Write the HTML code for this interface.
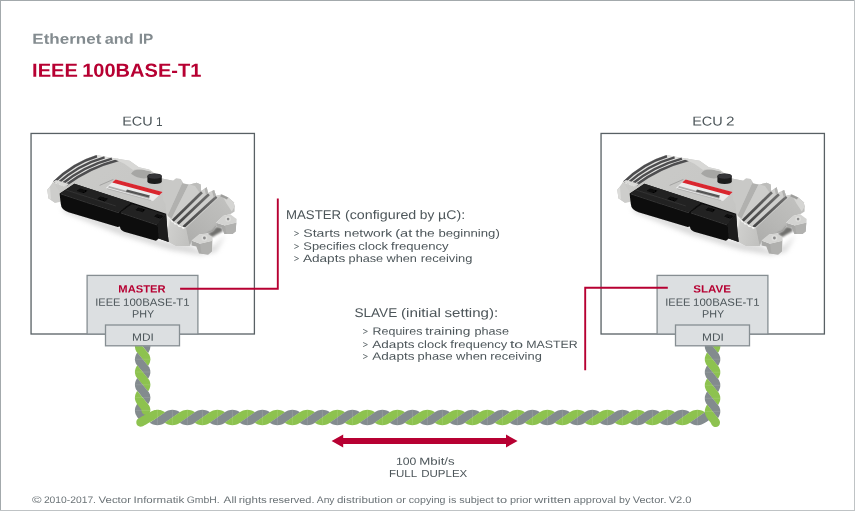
<!DOCTYPE html>
<html>
<head>
<meta charset="utf-8">
<title>IEEE 100BASE-T1</title>
<style>
html,body{margin:0;padding:0;background:#fff;}
body{width:855px;height:511px;overflow:hidden;font-family:"Liberation Sans",sans-serif;}
svg{display:block;}
text{font-family:"Liberation Sans",sans-serif;text-rendering:geometricPrecision;}
</style>
</head>
<body>
<svg width="855" height="511" viewBox="0 0 855 511">
<defs>
<filter id="b05" x="-10%" y="-10%" width="120%" height="120%"><feGaussianBlur stdDeviation="0.4"/></filter>
<filter id="b3" x="-30%" y="-80%" width="160%" height="260%"><feGaussianBlur stdDeviation="2.6"/></filter>
<filter id="b1" x="-30%" y="-60%" width="160%" height="220%"><feGaussianBlur stdDeviation="1"/></filter>
<linearGradient id="gTop" x1="0" y1="0" x2="1" y2="0.6">
<stop offset="0" stop-color="#cbcbc9"/><stop offset="0.6" stop-color="#c7c7c5"/><stop offset="1" stop-color="#c2c2c0"/>
</linearGradient>
<linearGradient id="gLong" gradientUnits="userSpaceOnUse" x1="230" y1="198" x2="192" y2="244">
<stop offset="0" stop-color="#c2c2c0"/><stop offset="0.55" stop-color="#b8b8b6"/><stop offset="1" stop-color="#aeaeac"/>
</linearGradient>
<linearGradient id="gFront" gradientUnits="userSpaceOnUse" x1="166" y1="230" x2="190" y2="236">
<stop offset="0" stop-color="#ececea"/><stop offset="0.1" stop-color="#cfcfcd"/><stop offset="1" stop-color="#c1c1bf"/>
</linearGradient>
<linearGradient id="gGap" gradientUnits="userSpaceOnUse" x1="210" y1="192" x2="178" y2="226">
<stop offset="0" stop-color="#6e6e6e"/><stop offset="1" stop-color="#434343"/>
</linearGradient>
<g id="ecu">
<!-- ground shadows -->
<g filter="url(#b3)" opacity="0.5">
<path d="M62 207 L120 226 L160 240 L190 245 L198 250 L214 246 L226 234 L216 252 L200 255 L170 250 L118 234 L64 212Z" fill="#b4b4b4"/>
</g>
<g filter="url(#b05)">
<!-- body silhouette -->
<path d="M47.4 189.8 L51.2 185 L53 181.8 Q72 162 96.5 155 L110 157.6 L129.7 160.7 L138.8 167.3 L149 169.5 L162.1 178.6 L173.2 180.8 L176 178.4 L180.7 178.9 L183.5 183.6 L190 184.5 L196.5 182.7 L200.6 184.5 L201.1 191 L206.7 187.3 L208 192.9 L214.1 190.1 L216 195.7 L221.6 194.4 L228.1 197.5 L233.7 202.2 L234.6 206.8 L231.8 211.5 L224.4 215.2 L216 221.7 L205.8 233.8 L199.3 234.2 L191.8 241.2 L190 245.9 L176.4 246.1 L169 241.9 L167.5 232 L166.2 213.8 L60 201.4 L54.9 202.8 L48.4 198.2Z" fill="url(#gTop)"/>
<!-- left face -->
<path d="M47.4 189.8 L51.2 185 L53.3 182.6 L59.8 192 L59.8 202 L54.9 202.8 L48.4 198.2Z" fill="#cdcdcb"/>
<path d="M47.4 189.8 L50 187 L51 199.5 L48.4 198.2Z" fill="#dcdcda"/>
<!-- left fins: light base + dark stripes -->
<path d="M52.6 182.6 Q72 162 96.5 155 L119.5 159.4 Q90 167.6 64 186.6Z" fill="#e2e2e0"/>
<g fill="none" stroke="#4e4e50" stroke-width="2.5">
<path d="M54 182.2 Q73 163.4 97 156.2"/>
<path d="M57.6 183.4 Q78.5 164.8 104.6 157.4"/>
<path d="M61.6 184.3 Q84 166 112 158.6"/>
<path d="M65.6 185.2 Q89.5 167.4 118.4 160"/>
</g>
<path d="M53 182 L62.5 185.4 L66.5 186 L69 184 L56 180Z" fill="#d9d9d7"/>
<!-- hump recess -->
<path d="M131 173.8 Q133.5 168.8 142 169.6 L151.5 171.5 L148 178 Q139 179.8 131 173.8Z" fill="#a6a6a4"/>
<path d="M110 157.6 L129.7 160.7 L138.8 167.3 L149 169.5 L153 172 L142 169.6 Q136 168.5 133 170 L124 163.5Z" fill="#d8d8d6"/>
<!-- cap -->
<path d="M147.4 176.2 Q147.4 173.6 154.6 173.6 Q161.8 173.6 161.8 176.4 L161.8 181.2 Q161.8 183.9 154.6 183.9 Q147.4 183.9 147.4 181.2Z" fill="#1d1d1f"/>
<ellipse cx="154.6" cy="176.2" rx="7.1" ry="2.5" fill="#343437"/>
<!-- label -->
<path d="M115.3 179.6 L162.4 192.3 L153 201 L105.8 188Z" fill="#ececec"/>
<path d="M115.6 179.4 L162.6 192.1 L159.2 195.2 L112.2 182.5Z" fill="#d9262f"/>
<path d="M109 186 L150 197.2 L149 198.8 L108 187.6Z" fill="#8a8a8a" opacity="0.65"/>
<path d="M127 189.4 L150 195.6 L148.8 197.6 L125.8 191.4Z" fill="#333" opacity="0.8"/>
<path d="M107 188.6 L151 200.4" stroke="#9a9a9a" stroke-width="0.7" opacity="0.7"/>
<path d="M99.6 185.4 L113.4 179.4" stroke="#8a8a88" stroke-width="0.6"/>
<!-- darker face left of F0 -->
<path d="M182.1 183.3 L188.4 184.7 L172 218.6 L167.6 215.6Z" fill="#b1b1af"/>
<path d="M162.1 178.6 L173.2 180.8 L176 178.4 L180.7 178.9 L182.1 183.3 L167.6 215.6 L166.2 213.8 L165.5 204 L163 200Z" fill="#c9c9c7"/>
<!-- F0 light face -->
<path d="M188.4 184.7 L190 184.5 L196.5 182.7 L200.6 184.5 L201.1 191 L172.4 220.6 L171.4 218.4Z" fill="#cdcdcb"/>
<path d="M190 184.5 L196.5 182.7 L200.6 184.5 L201.1 191 L199.5 192.5 L195 186Z" fill="#bdbdbb"/>
<!-- fin region light base -->
<path d="M201.1 191 L206.7 187.3 L208 192.9 L214.1 190.1 L216 195.7 L221.6 194.4 L226 197 L186.4 228.2 L171.5 220Z" fill="#cfcfcd"/>
<!-- dark gaps -->
<g fill="none" stroke="url(#gGap)" stroke-width="2.7">
<path d="M172.8 220.8 L201.9 192.2"/>
<path d="M177.8 223.8 L208.9 194.2"/>
<path d="M183.5 227 L216.5 196.8"/>
</g>
<!-- fin end faces -->
<path d="M206.7 187.3 L208 192.9 L206 195 L204.6 188.8Z" fill="#b1b1af"/>
<path d="M214.1 190.1 L216 195.7 L214 197.8 L212 191.2Z" fill="#b1b1af"/>
<!-- long right face -->
<path d="M221.6 194.4 L228.1 197.5 L233.7 202.2 L234.6 206.8 L234.6 211.5 L230.2 214.2 L223.2 215.8 L216.2 222.8 L216.2 226.5 L212.5 230.9 L206.5 233.5 L199 234.6 L191.5 240.5 L189.6 245.2 L185.9 227.9 L217.6 198.6Z" fill="url(#gLong)"/>
<path d="M221.6 194.4 L228.1 197.5 L233.7 202.2 L234.6 206.8 L231.8 211.5 L226.5 203.5Z" fill="#d5d5d3"/>
<path d="M221.6 194.4 L228.1 197.5 L227 199.4 L220.2 196.3Z" fill="#9d9d9b"/>
<!-- front right face -->
<path d="M166.2 213.8 L168.6 217 L171.1 219.8 L173.7 221.9 L176.9 224 L181.7 226.7 L185.9 227.7 L188.5 242.5 L190 245.9 L176.4 246.1 L169 241.9 L167.5 232Z" fill="url(#gFront)"/>
<path d="M168.2 217.2 L170.8 220.2 L171.8 222.2 L173.6 222.4 L174.6 224.4 L177 224.6 L178.4 226.8 L181.6 227.2 L183 229 L185.9 227.7 L181.7 226.7 L176.9 224 L173.7 221.9 L171.1 219.8 L168.6 217Z" fill="#fafaf8"/>
<!-- under body shadow between lugs -->
<path d="M207 233.6 L212.5 230.9 L216.2 226.5 L221.6 227.6 L223 231 L214 236 L212.5 237.3Z" fill="#6f6f6d" filter="url(#b1)"/>
<!-- lug 2 (far) -->
<path d="M216.2 222.8 L224.9 225.5 L236.2 222.8 L236.7 219 L235.6 231.4 L232.4 234.1 L224.3 234.1 L221.6 227.6 L216.2 226.5Z" fill="#a9a9a7"/>
<path d="M224.9 225.5 L236.2 222.8 L235.6 231.4 L232.4 234.1 L226.5 234.1Z" fill="#b1b1af"/>
<path d="M216.2 222.8 L223.2 215.8 L230.2 214.2 L236.7 219 L236.2 222.8 L224.9 225.5Z" fill="#d3d3d1"/>
<circle cx="228.1" cy="219" r="2.8" fill="#dededc"/>
<circle cx="228.1" cy="219.1" r="1.3" fill="#8a8a8a"/>
<!-- lug 1 (near) -->
<path d="M191.5 240.5 L200.1 243.8 L211.9 241.1 L212.5 237.3 L211.9 251.3 L208.2 254.6 L199 253.5 L196.3 246.5 L191.5 245.4Z" fill="#a8a8a6"/>
<path d="M200.1 243.8 L211.9 241.1 L211.9 251.3 L208.2 254.6 L201.5 253.8Z" fill="#b0b0ae"/>
<path d="M191.5 240.5 L199 234.6 L206.5 233.5 L212.5 237.3 L211.9 241.1 L200.1 243.8Z" fill="#d4d4d2"/>
<circle cx="204.4" cy="237.9" r="3" fill="#dededc"/>
<circle cx="204.4" cy="238" r="1.4" fill="#8a8a8a"/>
<!-- connectors: black silhouette -->
<path d="M59.6 193.6 L74.4 183.7 L105 193.7 L132 202.6 L166.2 213.8 L167.5 232 L168.7 242.1 L158.8 238.4 L156 240.7 L124.2 231.7 Q120.3 230.4 119.9 226.6 L117.7 227 L68.5 212.2 Q61.2 209.8 60.8 204Z" fill="#0b0b0b"/>
<!-- connector tops -->
<path d="M60.4 193.4 L74.4 183.7 L105 193.7 L131.5 202.5 L124 208 L119.3 212.3 L86.5 201.9Z" fill="#232323"/>
<path d="M120.4 212.4 L132.1 204 L166 214.6 L157.4 224.6 Z" fill="#232323"/>
<path d="M157.4 224.6 L166 214.6 L167.5 232 L168.7 242.1 L158.8 238.4Z" fill="#1e1e1e"/>
<!-- highlights on connector tops -->
<path d="M61 194 L86.5 202.4 L119 212.8" stroke="#363636" stroke-width="1" fill="none"/>
<path d="M121 213 L157 224.9" stroke="#363636" stroke-width="1" fill="none"/>
<path d="M66 190 L116 206" stroke="#383838" stroke-width="0.7" fill="none"/>
<path d="M80 188.4 L87.6 190.6 L84.2 193.2 L76.6 191Z" fill="#070707"/>
<path d="M100.5 196.4 L108 198.8 L104.8 201.4 L97.2 199Z" fill="#070707"/>
<path d="M138.5 207.4 L145.5 209.6 L142.5 212.2 L135.5 210Z" fill="#070707"/>
<path d="M157 213.9 L163.5 216 L160.5 218.8 L154 216.6Z" fill="#070707"/>
</g>
</g>

</defs>
<rect x="0" y="0" width="855" height="511" fill="#fff"/>
<!-- outer border -->
<path d="M0 0.5H855M0.5 0V511" stroke="#a3a9ac" stroke-width="1" fill="none"/>
<path d="M0 510.5H855M854.5 0V511" stroke="#bfc3c5" stroke-width="1" fill="none"/>

<!-- ECU boxes -->
<rect x="31.05" y="133.45" width="223.35" height="200.55" fill="#fff" stroke="#586064" stroke-width="1.3"/>
<rect x="601.05" y="133.45" width="223.35" height="200.55" fill="#fff" stroke="#586064" stroke-width="1.3"/>

<!-- ECU images -->
<use href="#ecu"/>
<use href="#ecu" x="570"/>

<!-- cables -->
<g id="cable">
<path d="M149 341.4 149.2 341.7 149.8 343.1 150.2 344.7 150.4 346.4 150.2 348.1 149.8 349.7 149.2 351.1 148.5 352.4 148 353.1 136.3 338.6 136.1 338.3 135.5 336.9 135.1 335.3 134.9 333.6 135.1 331.9 135.5 330.3 136.1 328.9 136.8 327.6 137.3 326.9Z" fill="#838b8e"/>
<path d="M149 354.2 149.2 354.5 149.8 355.9 150.2 357.5 150.4 359.2 150.2 360.9 149.8 362.5 149.2 363.9 148.5 365.2 148 365.9 136.3 351.4 136.1 351.1 135.5 349.7 135.1 348.1 134.9 346.4 135.1 344.7 135.5 343.1 136.1 341.7 136.8 340.4 137.3 339.7Z" fill="#8dc24f"/>
<path d="M149 367 149.2 367.3 149.8 368.7 150.2 370.3 150.4 372 150.2 373.7 149.8 375.3 149.2 376.7 148.5 378 148 378.7 136.3 364.2 136.1 363.9 135.5 362.5 135.1 360.9 134.9 359.2 135.1 357.5 135.5 355.9 136.1 354.5 136.8 353.2 137.3 352.5Z" fill="#838b8e"/>
<path d="M149 379.8 149.2 380.1 149.8 381.5 150.2 383.1 150.4 384.8 150.2 386.5 149.8 388.1 149.2 389.5 148.5 390.8 148 391.5 136.3 377 136.1 376.7 135.5 375.3 135.1 373.7 134.9 372 135.1 370.3 135.5 368.7 136.1 367.3 136.8 366 137.3 365.3Z" fill="#8dc24f"/>
<path d="M149 392.6 149.2 392.9 149.8 394.3 150.2 395.9 150.4 397.6 150.2 399.3 149.8 400.9 149.2 402.3 148.5 403.6 148 404.3 136.3 389.8 136.1 389.5 135.5 388.1 135.1 386.5 134.9 384.8 135.1 383.1 135.5 381.5 136.1 380.1 136.8 378.8 137.3 378.1Z" fill="#838b8e"/>
<path d="M146.1 406.8 145.6 407.4 145.2 408 144.8 408.5 144.4 409 144.2 409.4 144 409.7 143.9 410 143.8 410.2 143.8 410.3 143.8 410.4 143.8 410.5 143.8 410.6 143.9 410.8 144 411.1 144.2 411.4 144.4 411.8 144.8 412.3 145.2 412.8 145.6 413.4 146.1 414 146.6 414.7 147.2 415.4 147.8 416.1 148.3 416.9 148.8 417.8 149.3 418.7 149.8 419.7 150 420.6 141.5 423.2 141.4 422.8 141.3 422.5 141.1 422.2 140.9 421.8 140.5 421.3 140.1 420.8 139.7 420.2 139.2 419.6 138.7 418.9 138.1 418.2 137.5 417.5 137 416.7 136.5 415.8 136 414.9 135.5 413.9 135.2 412.8 135 411.6 134.9 410.4 135 409.2 135.2 408 135.5 406.9 136 405.9 136.5 405 137 404.1 137.5 403.3 138.1 402.6 138.7 401.9 139.2 401.2Z" fill="#838b8e"/>
<path d="M149.1 405.4 149.2 405.7 149.7 406.7 150.1 407.9 150.3 409.1 150.4 410.1 150.3 411.3 149.9 412.4 149.3 413.3 148.4 414.1 147.4 414.6 146.3 414.8 145.1 414.8 144 414.4 143 413.8 142.3 412.9 141.7 411.8 141.5 410.7 141.5 410.3 141.5 410.2 141.4 410 141.3 409.7 141 409.3 140.7 408.8 140.3 408.3 139.9 407.7 139.4 407 138.8 406.3 138.2 405.6 137.6 404.8 137 403.9 136.5 403 135.9 402 135.5 400.9 135.1 399.7 134.9 398.5 134.9 397.2 135.1 395.9 135.3 394.7 135.8 393.6 136.3 392.5 136.8 391.6 137.3 390.9Z" fill="#8dc24f"/>
<path d="M165.5 411.8 166 411.5 167.4 410.8 169 410.3 170.7 409.9 172.4 409.8 174.1 409.9 175.8 410.3 177.4 410.8 178.8 411.5 180.1 412.3 164.3 423.2 163.8 423.5 162.4 424.2 160.8 424.7 159.1 425.1 157.4 425.2 155.7 425.1 154 424.7 152.4 424.2 151 423.5 149.7 422.7Z" fill="#838b8e"/>
<path d="M180.5 411.8 181 411.5 182.4 410.8 184 410.3 185.7 409.9 187.4 409.8 189.1 409.9 190.8 410.3 192.4 410.8 193.8 411.5 195.1 412.3 179.3 423.2 178.8 423.5 177.4 424.2 175.8 424.7 174.1 425.1 172.4 425.2 170.7 425.1 169 424.7 167.4 424.2 166 423.5 164.7 422.7Z" fill="#8dc24f"/>
<path d="M195.5 411.8 196 411.5 197.4 410.8 199 410.3 200.7 409.9 202.4 409.8 204.1 409.9 205.8 410.3 207.4 410.8 208.8 411.5 210.1 412.3 194.3 423.2 193.8 423.5 192.4 424.2 190.8 424.7 189.1 425.1 187.4 425.2 185.7 425.1 184 424.7 182.4 424.2 181 423.5 179.7 422.7Z" fill="#838b8e"/>
<path d="M210.5 411.8 211 411.5 212.4 410.8 214 410.3 215.7 409.9 217.4 409.8 219.1 409.9 220.8 410.3 222.4 410.8 223.8 411.5 225.1 412.3 209.3 423.2 208.8 423.5 207.4 424.2 205.8 424.7 204.1 425.1 202.4 425.2 200.7 425.1 199 424.7 197.4 424.2 196 423.5 194.7 422.7Z" fill="#8dc24f"/>
<path d="M225.5 411.8 226 411.5 227.4 410.8 229 410.3 230.7 409.9 232.4 409.8 234.1 409.9 235.8 410.3 237.4 410.8 238.8 411.5 240.1 412.3 224.3 423.2 223.8 423.5 222.4 424.2 220.8 424.7 219.1 425.1 217.4 425.2 215.7 425.1 214 424.7 212.4 424.2 211 423.5 209.7 422.7Z" fill="#838b8e"/>
<path d="M240.5 411.8 241 411.5 242.4 410.8 244 410.3 245.7 409.9 247.4 409.8 249.1 409.9 250.8 410.3 252.4 410.8 253.8 411.5 255.1 412.3 239.3 423.2 238.8 423.5 237.4 424.2 235.8 424.7 234.1 425.1 232.4 425.2 230.7 425.1 229 424.7 227.4 424.2 226 423.5 224.7 422.7Z" fill="#8dc24f"/>
<path d="M255.5 411.8 256 411.5 257.4 410.8 259 410.3 260.7 409.9 262.4 409.8 264.1 409.9 265.8 410.3 267.4 410.8 268.8 411.5 270.1 412.3 254.3 423.2 253.8 423.5 252.4 424.2 250.8 424.7 249.1 425.1 247.4 425.2 245.7 425.1 244 424.7 242.4 424.2 241 423.5 239.7 422.7Z" fill="#838b8e"/>
<path d="M270.5 411.8 271 411.5 272.4 410.8 274 410.3 275.7 409.9 277.4 409.8 279.1 409.9 280.8 410.3 282.4 410.8 283.8 411.5 285.1 412.3 269.3 423.2 268.8 423.5 267.4 424.2 265.8 424.7 264.1 425.1 262.4 425.2 260.7 425.1 259 424.7 257.4 424.2 256 423.5 254.7 422.7Z" fill="#8dc24f"/>
<path d="M285.5 411.8 286 411.5 287.4 410.8 289 410.3 290.7 409.9 292.4 409.8 294.1 409.9 295.8 410.3 297.4 410.8 298.8 411.5 300.1 412.3 284.3 423.2 283.8 423.5 282.4 424.2 280.8 424.7 279.1 425.1 277.4 425.2 275.7 425.1 274 424.7 272.4 424.2 271 423.5 269.7 422.7Z" fill="#838b8e"/>
<path d="M300.5 411.8 301 411.5 302.4 410.8 304 410.3 305.7 409.9 307.4 409.8 309.1 409.9 310.8 410.3 312.4 410.8 313.8 411.5 315.1 412.3 299.3 423.2 298.8 423.5 297.4 424.2 295.8 424.7 294.1 425.1 292.4 425.2 290.7 425.1 289 424.7 287.4 424.2 286 423.5 284.7 422.7Z" fill="#8dc24f"/>
<path d="M315.5 411.8 316 411.5 317.4 410.8 319 410.3 320.7 409.9 322.4 409.8 324.1 409.9 325.8 410.3 327.4 410.8 328.8 411.5 330.1 412.3 314.3 423.2 313.8 423.5 312.4 424.2 310.8 424.7 309.1 425.1 307.4 425.2 305.7 425.1 304 424.7 302.4 424.2 301 423.5 299.7 422.7Z" fill="#838b8e"/>
<path d="M330.5 411.8 331 411.5 332.4 410.8 334 410.3 335.7 409.9 337.4 409.8 339.1 409.9 340.8 410.3 342.4 410.8 343.8 411.5 345.1 412.3 329.3 423.2 328.8 423.5 327.4 424.2 325.8 424.7 324.1 425.1 322.4 425.2 320.7 425.1 319 424.7 317.4 424.2 316 423.5 314.7 422.7Z" fill="#8dc24f"/>
<path d="M345.5 411.8 346 411.5 347.4 410.8 349 410.3 350.7 409.9 352.4 409.8 354.1 409.9 355.8 410.3 357.4 410.8 358.8 411.5 360.1 412.3 344.3 423.2 343.8 423.5 342.4 424.2 340.8 424.7 339.1 425.1 337.4 425.2 335.7 425.1 334 424.7 332.4 424.2 331 423.5 329.7 422.7Z" fill="#838b8e"/>
<path d="M360.5 411.8 361 411.5 362.4 410.8 364 410.3 365.7 409.9 367.4 409.8 369.1 409.9 370.8 410.3 372.4 410.8 373.8 411.5 375.1 412.3 359.3 423.2 358.8 423.5 357.4 424.2 355.8 424.7 354.1 425.1 352.4 425.2 350.7 425.1 349 424.7 347.4 424.2 346 423.5 344.7 422.7Z" fill="#8dc24f"/>
<path d="M375.5 411.8 376 411.5 377.4 410.8 379 410.3 380.7 409.9 382.4 409.8 384.1 409.9 385.8 410.3 387.4 410.8 388.8 411.5 390.1 412.3 374.3 423.2 373.8 423.5 372.4 424.2 370.8 424.7 369.1 425.1 367.4 425.2 365.7 425.1 364 424.7 362.4 424.2 361 423.5 359.7 422.7Z" fill="#838b8e"/>
<path d="M390.5 411.8 391 411.5 392.4 410.8 394 410.3 395.7 409.9 397.4 409.8 399.1 409.9 400.8 410.3 402.4 410.8 403.8 411.5 405.1 412.3 389.3 423.2 388.8 423.5 387.4 424.2 385.8 424.7 384.1 425.1 382.4 425.2 380.7 425.1 379 424.7 377.4 424.2 376 423.5 374.7 422.7Z" fill="#8dc24f"/>
<path d="M405.5 411.8 406 411.5 407.4 410.8 409 410.3 410.7 409.9 412.4 409.8 414.1 409.9 415.8 410.3 417.4 410.8 418.8 411.5 420.1 412.3 404.3 423.2 403.8 423.5 402.4 424.2 400.8 424.7 399.1 425.1 397.4 425.2 395.7 425.1 394 424.7 392.4 424.2 391 423.5 389.7 422.7Z" fill="#838b8e"/>
<path d="M420.5 411.8 421 411.5 422.4 410.8 424 410.3 425.7 409.9 427.4 409.8 429.1 409.9 430.8 410.3 432.4 410.8 433.8 411.5 435.1 412.3 419.3 423.2 418.8 423.5 417.4 424.2 415.8 424.7 414.1 425.1 412.4 425.2 410.7 425.1 409 424.7 407.4 424.2 406 423.5 404.7 422.7Z" fill="#8dc24f"/>
<path d="M435.5 411.8 436 411.5 437.4 410.8 439 410.3 440.7 409.9 442.4 409.8 444.1 409.9 445.8 410.3 447.4 410.8 448.8 411.5 450.1 412.3 434.3 423.2 433.8 423.5 432.4 424.2 430.8 424.7 429.1 425.1 427.4 425.2 425.7 425.1 424 424.7 422.4 424.2 421 423.5 419.7 422.7Z" fill="#838b8e"/>
<path d="M450.5 411.8 451 411.5 452.4 410.8 454 410.3 455.7 409.9 457.4 409.8 459.1 409.9 460.8 410.3 462.4 410.8 463.8 411.5 465.1 412.3 449.3 423.2 448.8 423.5 447.4 424.2 445.8 424.7 444.1 425.1 442.4 425.2 440.7 425.1 439 424.7 437.4 424.2 436 423.5 434.7 422.7Z" fill="#8dc24f"/>
<path d="M465.5 411.8 466 411.5 467.4 410.8 469 410.3 470.7 409.9 472.4 409.8 474.1 409.9 475.8 410.3 477.4 410.8 478.8 411.5 480.1 412.3 464.3 423.2 463.8 423.5 462.4 424.2 460.8 424.7 459.1 425.1 457.4 425.2 455.7 425.1 454 424.7 452.4 424.2 451 423.5 449.7 422.7Z" fill="#838b8e"/>
<path d="M480.5 411.8 481 411.5 482.4 410.8 484 410.3 485.7 409.9 487.4 409.8 489.1 409.9 490.8 410.3 492.4 410.8 493.8 411.5 495.1 412.3 479.3 423.2 478.8 423.5 477.4 424.2 475.8 424.7 474.1 425.1 472.4 425.2 470.7 425.1 469 424.7 467.4 424.2 466 423.5 464.7 422.7Z" fill="#8dc24f"/>
<path d="M495.5 411.8 496 411.5 497.4 410.8 499 410.3 500.7 409.9 502.4 409.8 504.1 409.9 505.8 410.3 507.4 410.8 508.8 411.5 510.1 412.3 494.3 423.2 493.8 423.5 492.4 424.2 490.8 424.7 489.1 425.1 487.4 425.2 485.7 425.1 484 424.7 482.4 424.2 481 423.5 479.7 422.7Z" fill="#838b8e"/>
<path d="M510.5 411.8 511 411.5 512.4 410.8 514 410.3 515.7 409.9 517.4 409.8 519.1 409.9 520.8 410.3 522.4 410.8 523.8 411.5 525.1 412.3 509.3 423.2 508.8 423.5 507.4 424.2 505.8 424.7 504.1 425.1 502.4 425.2 500.7 425.1 499 424.7 497.4 424.2 496 423.5 494.7 422.7Z" fill="#8dc24f"/>
<path d="M525.5 411.8 526 411.5 527.4 410.8 529 410.3 530.7 409.9 532.4 409.8 534.1 409.9 535.8 410.3 537.4 410.8 538.8 411.5 540.1 412.3 524.3 423.2 523.8 423.5 522.4 424.2 520.8 424.7 519.1 425.1 517.4 425.2 515.7 425.1 514 424.7 512.4 424.2 511 423.5 509.7 422.7Z" fill="#838b8e"/>
<path d="M540.5 411.8 541 411.5 542.4 410.8 544 410.3 545.7 409.9 547.4 409.8 549.1 409.9 550.8 410.3 552.4 410.8 553.8 411.5 555.1 412.3 539.3 423.2 538.8 423.5 537.4 424.2 535.8 424.7 534.1 425.1 532.4 425.2 530.7 425.1 529 424.7 527.4 424.2 526 423.5 524.7 422.7Z" fill="#8dc24f"/>
<path d="M555.5 411.8 556 411.5 557.4 410.8 559 410.3 560.7 409.9 562.4 409.8 564.1 409.9 565.8 410.3 567.4 410.8 568.8 411.5 570.1 412.3 554.3 423.2 553.8 423.5 552.4 424.2 550.8 424.7 549.1 425.1 547.4 425.2 545.7 425.1 544 424.7 542.4 424.2 541 423.5 539.7 422.7Z" fill="#838b8e"/>
<path d="M570.5 411.8 571 411.5 572.4 410.8 574 410.3 575.7 409.9 577.4 409.8 579.1 409.9 580.8 410.3 582.4 410.8 583.8 411.5 585.1 412.3 569.3 423.2 568.8 423.5 567.4 424.2 565.8 424.7 564.1 425.1 562.4 425.2 560.7 425.1 559 424.7 557.4 424.2 556 423.5 554.7 422.7Z" fill="#8dc24f"/>
<path d="M585.5 411.8 586 411.5 587.4 410.8 589 410.3 590.7 409.9 592.4 409.8 594.1 409.9 595.8 410.3 597.4 410.8 598.8 411.5 600.1 412.3 584.3 423.2 583.8 423.5 582.4 424.2 580.8 424.7 579.1 425.1 577.4 425.2 575.7 425.1 574 424.7 572.4 424.2 571 423.5 569.7 422.7Z" fill="#838b8e"/>
<path d="M600.5 411.8 601 411.5 602.4 410.8 604 410.3 605.7 409.9 607.4 409.8 609.1 409.9 610.8 410.3 612.4 410.8 613.8 411.5 615.1 412.3 599.3 423.2 598.8 423.5 597.4 424.2 595.8 424.7 594.1 425.1 592.4 425.2 590.7 425.1 589 424.7 587.4 424.2 586 423.5 584.7 422.7Z" fill="#8dc24f"/>
<path d="M615.5 411.8 616 411.5 617.4 410.8 619 410.3 620.7 409.9 622.4 409.8 624.1 409.9 625.8 410.3 627.4 410.8 628.8 411.5 630.1 412.3 614.3 423.2 613.8 423.5 612.4 424.2 610.8 424.7 609.1 425.1 607.4 425.2 605.7 425.1 604 424.7 602.4 424.2 601 423.5 599.7 422.7Z" fill="#838b8e"/>
<path d="M630.5 411.8 631 411.5 632.4 410.8 634 410.3 635.7 409.9 637.4 409.8 639.1 409.9 640.8 410.3 642.4 410.8 643.8 411.5 645.1 412.3 629.3 423.2 628.8 423.5 627.4 424.2 625.8 424.7 624.1 425.1 622.4 425.2 620.7 425.1 619 424.7 617.4 424.2 616 423.5 614.7 422.7Z" fill="#8dc24f"/>
<path d="M645.5 411.8 646 411.5 647.4 410.8 649 410.3 650.7 409.9 652.4 409.8 654.1 409.9 655.8 410.3 657.4 410.8 658.8 411.5 660.1 412.3 644.3 423.2 643.8 423.5 642.4 424.2 640.8 424.7 639.1 425.1 637.4 425.2 635.7 425.1 634 424.7 632.4 424.2 631 423.5 629.7 422.7Z" fill="#838b8e"/>
<path d="M660.5 411.8 661 411.5 662.4 410.8 664 410.3 665.7 409.9 667.4 409.8 669.1 409.9 670.8 410.3 672.4 410.8 673.8 411.5 675.1 412.3 659.3 423.2 658.8 423.5 657.4 424.2 655.8 424.7 654.1 425.1 652.4 425.2 650.7 425.1 649 424.7 647.4 424.2 646 423.5 644.7 422.7Z" fill="#8dc24f"/>
<path d="M675.5 411.8 676 411.5 677.4 410.8 679 410.3 680.7 409.9 682.4 409.8 684.1 409.9 685.8 410.3 687.4 410.8 688.8 411.5 690.1 412.3 674.3 423.2 673.8 423.5 672.4 424.2 670.8 424.7 669.1 425.1 667.4 425.2 665.7 425.1 664 424.7 662.4 424.2 661 423.5 659.7 422.7Z" fill="#838b8e"/>
<path d="M690.5 411.8 691 411.5 692.4 410.8 694 410.3 695.7 409.9 697.4 409.8 699.1 409.9 700.8 410.3 702.4 410.8 703.8 411.5 705.1 412.3 689.3 423.2 688.8 423.5 687.4 424.2 685.8 424.7 684.1 425.1 682.4 425.2 680.7 425.1 679 424.7 677.4 424.2 676 423.5 674.7 422.7Z" fill="#8dc24f"/>
<path d="M705.6 411.8 705.7 411.7 706.7 411.2 707.7 410.7 708.8 410.3 709.8 410.1 712 418.7 711.5 418.8 711.1 419 710.6 419.2 710.1 419.4 709.5 419.8 708.8 420.2 708.2 420.7 707.4 421.2 706.7 421.7 705.8 422.2 705 422.8 704.1 423.3 703.1 423.8 702.1 424.3 701 424.7 699.8 425 698.6 425.2 697.4 425.2 696.2 425.2 695 425 693.8 424.7 692.7 424.3 691.7 423.8 690.7 423.3 689.8 422.8 689.7 422.7Z" fill="#838b8e"/>
<path d="M138.6 418.4 140.2 417.5 141.8 416.6 143.4 415.7 145 414.8 146.6 413.9 148.3 413.1 149.9 412.2 151.6 411.2 152.2 410.9 152.8 410.7 153.4 410.5 154 410.3 154.6 410.1 155.2 410 155.9 409.9 156.5 409.8 157.2 409.8 157.8 409.8 158.5 409.8 159.1 409.9 159.8 410 160.4 410.1 161 410.3 161.6 410.5 162.2 410.8 162.7 411 163.3 411.3 163.8 411.5 164.3 411.8 164.8 412.1 165.1 412.3 153.1 420.5 152.6 420.8 150.9 421.7 149.3 422.6 147.7 423.5 146.1 424.4 144.5 425.3 142.8 426.2 141.8 426.6 140.6 426.7 139.5 426.6 138.4 426.1 137.5 425.4 136.8 424.4 136.4 423.4 136.3 422.2 136.4 421.1 136.9 420 137.6 419.1Z" fill="#8dc24f"/>
<path d="M718.9 340.9 719.1 341.4 719.7 342.8 720.2 344.4 720.3 346.1 720.2 347.9 719.7 349.5 719.1 350.9 718.4 352.2 717.9 353 706.2 338.3 706 337.9 705.4 336.4 704.9 334.8 704.8 333.1 704.9 331.4 705.4 329.8 706 328.3 706.7 327 707.2 326.3Z" fill="#8dc24f"/>
<path d="M718.9 354 719.1 354.4 719.7 355.9 720.2 357.5 720.3 359.2 720.2 360.9 719.7 362.5 719.1 364 718.4 365.3 717.9 366 706.2 351.4 706 350.9 705.4 349.5 704.9 347.9 704.8 346.1 704.9 344.4 705.4 342.8 706 341.4 706.7 340.1 707.2 339.3Z" fill="#838b8e"/>
<path d="M718.9 367 719.1 367.5 719.7 368.9 720.2 370.5 720.3 372.2 720.2 374 719.7 375.6 719.1 377 718.4 378.3 717.9 379.1 706.2 364.4 706 364 705.4 362.5 704.9 360.9 704.8 359.2 704.9 357.5 705.4 355.9 706 354.4 706.7 353.1 707.2 352.4Z" fill="#8dc24f"/>
<path d="M718.9 380.1 719.1 380.5 719.7 382 720.2 383.6 720.3 385.3 720.2 387 719.7 388.6 719.1 390.1 718.4 391.4 717.9 392.1 706.2 377.5 706 377 705.4 375.6 704.9 374 704.8 372.2 704.9 370.5 705.4 368.9 706 367.5 706.7 366.2 707.2 365.4Z" fill="#838b8e"/>
<path d="M718.9 393.1 719.1 393.6 719.7 395 720.2 396.6 720.3 398.3 720.2 400.1 719.7 401.7 719.1 403.1 718.4 404.4 717.9 405.2 706.2 390.5 706 390.1 705.4 388.6 704.9 387 704.8 385.3 704.9 383.6 705.4 382 706 380.5 706.7 379.2 707.2 378.5Z" fill="#8dc24f"/>
<path d="M718.9 406.2 719.1 406.6 719.7 408.1 720.2 409.7 720.3 411.4 720.2 413.1 719.7 414.7 719.1 416.2 718.4 417.5 717.9 418.2 706.2 403.6 706 403.1 705.4 401.7 704.9 400.1 704.8 398.3 704.9 396.6 705.4 395 706 393.6 706.7 392.3 707.2 391.5Z" fill="#838b8e"/>
<path d="M718.9 419.3 719.4 420.2 719.7 421 720 422.1 719.9 423.3 719.6 424.4 719 425.4 718.2 426.2 717.2 426.8 716 427 714.9 427 713.8 426.7 712.8 426.1 712 425.3 711.4 424.2 711.2 423.8 711.1 423.5 710.8 423.1 710.5 422.6 710.2 422.1 709.7 421.5 709.3 420.9 708.8 420.3 708.2 419.6 707.7 418.9 707.1 418.1 706.6 417.3 706.1 416.4 705.7 415.5 705.3 414.5 705 413.4 704.8 412.2 704.8 411.1 704.9 409.9 705.2 408.8 705.5 407.7 705.9 406.7 706.4 405.8 706.9 405 707.2 404.6Z" fill="#8dc24f"/>
<path d="M157.4 410.1V424.9M172.4 410.1V424.9M187.4 410.1V424.9M202.4 410.1V424.9M217.4 410.1V424.9M232.4 410.1V424.9M247.4 410.1V424.9M262.4 410.1V424.9M277.4 410.1V424.9M292.4 410.1V424.9M307.4 410.1V424.9M322.4 410.1V424.9M337.4 410.1V424.9M352.4 410.1V424.9M367.4 410.1V424.9M382.4 410.1V424.9M397.4 410.1V424.9M412.4 410.1V424.9M427.4 410.1V424.9M442.4 410.1V424.9M457.4 410.1V424.9M472.4 410.1V424.9M487.4 410.1V424.9M502.4 410.1V424.9M517.4 410.1V424.9M532.4 410.1V424.9M547.4 410.1V424.9M562.4 410.1V424.9M577.4 410.1V424.9M592.4 410.1V424.9M607.4 410.1V424.9M622.4 410.1V424.9M637.4 410.1V424.9M652.4 410.1V424.9M667.4 410.1V424.9M682.4 410.1V424.9M697.4 410.1V424.9M135.2 346.4H150.1M705.1 346.1H720.0M135.2 359.2H150.1M705.1 359.2H720.0M135.2 372.0H150.1M705.1 372.2H720.0M135.2 384.8H150.1M705.1 385.3H720.0M135.2 397.6H150.1M705.1 398.3H720.0M135.2 410.4H150.1M705.1 411.4H720.0" stroke="#fff" stroke-width="0.7" opacity="0.16" fill="none"/>
</g>

<!-- PHY / MDI boxes -->
<rect x="87.1" y="275.4" width="110.8" height="58.6" fill="#dcdfe1" stroke="#868e92" stroke-width="1.3"/>
<rect x="657.1" y="275.4" width="110.8" height="58.6" fill="#dcdfe1" stroke="#868e92" stroke-width="1.3"/>
<rect x="105.5" y="325" width="74" height="20.8" fill="#dcdfe1" stroke="#868e92" stroke-width="1.3"/>
<rect x="675.5" y="325" width="74" height="20.8" fill="#dcdfe1" stroke="#868e92" stroke-width="1.3"/>

<!-- red connector lines -->
<path d="M180.1 288.8 H277.8 V198.6" fill="none" stroke="#b70032" stroke-width="1.9"/>
<path d="M667.8 287.8 H585.2 V370.2" fill="none" stroke="#b70032" stroke-width="1.9"/>

<!-- arrow -->
<path d="M331.6 441 L343.2 434.6 V438 H506 V434.6 L517.6 441 L506 447.4 V444 H343.2 V447.4 Z" fill="#b70032"/>

<!-- texts -->
<g transform="matrix(1 0.0005 0 1 0 0)" opacity="0.996">
<text x="32.3" y="43.78" font-size="14.4" font-weight="bold" fill="#838b8f" textLength="69.0" lengthAdjust="spacingAndGlyphs">Ethernet</text>
<text x="104.7" y="43.75" font-size="14.4" font-weight="bold" fill="#838b8f" textLength="29.0" lengthAdjust="spacingAndGlyphs">and</text>
<text x="138.8" y="43.73" font-size="14.4" font-weight="bold" fill="#838b8f" textLength="14.5" lengthAdjust="spacingAndGlyphs">IP</text>
<text x="32.1" y="76.68" font-size="18.9" font-weight="bold" fill="#b70032" textLength="45.8" lengthAdjust="spacingAndGlyphs">IEEE</text>
<text x="82.2" y="76.66" font-size="18.9" font-weight="bold" fill="#b70032" textLength="119.1" lengthAdjust="spacingAndGlyphs">100BASE-T1</text>
<text x="122.2" y="125.54" font-size="12.9" fill="#4d565a" textLength="30.6" lengthAdjust="spacingAndGlyphs">ECU</text>
<text x="155.9" y="125.52" font-size="12.9" fill="#4d565a" textLength="6.6" lengthAdjust="spacingAndGlyphs">1</text>
<text x="692.2" y="125.25" font-size="12.9" fill="#4d565a" textLength="30.6" lengthAdjust="spacingAndGlyphs">ECU</text>
<text x="725.9" y="125.24" font-size="12.9" fill="#4d565a" textLength="8.5" lengthAdjust="spacingAndGlyphs">2</text>
<text x="118.3" y="292.44" font-size="10.5" font-weight="bold" fill="#b70032" textLength="47.3" lengthAdjust="spacingAndGlyphs">MASTER</text>
<text x="95.2" y="305.65" font-size="10.5" fill="#4d565a" textLength="25.2" lengthAdjust="spacingAndGlyphs">IEEE</text>
<text x="123.1" y="305.64" font-size="10.5" fill="#4d565a" textLength="66.6" lengthAdjust="spacingAndGlyphs">100BASE-T1</text>
<text x="132.1" y="317.43" font-size="10.5" fill="#4d565a" textLength="22.2" lengthAdjust="spacingAndGlyphs">PHY</text>
<text x="132.1" y="340.58" font-size="10.5" fill="#4d565a" textLength="21.8" lengthAdjust="spacingAndGlyphs">MDI</text>
<text x="693.2" y="292.15" font-size="10.5" font-weight="bold" fill="#b70032" textLength="37.8" lengthAdjust="spacingAndGlyphs">SLAVE</text>
<text x="665.2" y="305.37" font-size="10.5" fill="#4d565a" textLength="25.2" lengthAdjust="spacingAndGlyphs">IEEE</text>
<text x="693.1" y="305.35" font-size="10.5" fill="#4d565a" textLength="66.6" lengthAdjust="spacingAndGlyphs">100BASE-T1</text>
<text x="702.1" y="317.15" font-size="10.5" fill="#4d565a" textLength="22.2" lengthAdjust="spacingAndGlyphs">PHY</text>
<text x="702.1" y="340.30" font-size="10.5" fill="#4d565a" textLength="21.8" lengthAdjust="spacingAndGlyphs">MDI</text>
<text x="286.0" y="218.76" font-size="12.6" fill="#4d565a" textLength="55.1" lengthAdjust="spacingAndGlyphs">MASTER</text>
<text x="344.9" y="218.73" font-size="12.6" fill="#4d565a" textLength="71.4" lengthAdjust="spacingAndGlyphs">(configured</text>
<text x="419.8" y="218.69" font-size="12.6" fill="#4d565a" textLength="14.5" lengthAdjust="spacingAndGlyphs">by</text>
<text x="438.0" y="218.68" font-size="12.6" fill="#4d565a" textLength="27.2" lengthAdjust="spacingAndGlyphs">µC):</text>
<path d="M294.3 231.2 l4.3 2.1 l-4.3 2.1" fill="none" stroke="#5a6367" stroke-width="0.85"/>
<text x="303.3" y="236.65" font-size="10.7" fill="#4d565a" textLength="36.8" lengthAdjust="spacingAndGlyphs">Starts</text>
<text x="344.1" y="236.63" font-size="10.7" fill="#4d565a" textLength="48.1" lengthAdjust="spacingAndGlyphs">network</text>
<text x="395.2" y="236.60" font-size="10.7" fill="#4d565a" textLength="17.1" lengthAdjust="spacingAndGlyphs">(at</text>
<text x="415.6" y="236.59" font-size="10.7" fill="#4d565a" textLength="19.2" lengthAdjust="spacingAndGlyphs">the</text>
<text x="438.4" y="236.58" font-size="10.7" fill="#4d565a" textLength="61.4" lengthAdjust="spacingAndGlyphs">beginning)</text>
<path d="M294.3 244.2 l4.3 2.1 l-4.3 2.1" fill="none" stroke="#5a6367" stroke-width="0.85"/>
<text x="303.3" y="249.65" font-size="10.7" fill="#4d565a" textLength="52.3" lengthAdjust="spacingAndGlyphs">Specifies</text>
<text x="358.2" y="249.62" font-size="10.7" fill="#4d565a" textLength="29.9" lengthAdjust="spacingAndGlyphs">clock</text>
<text x="391.0" y="249.60" font-size="10.7" fill="#4d565a" textLength="57.6" lengthAdjust="spacingAndGlyphs">frequency</text>
<path d="M294.3 256.3 l4.3 2.1 l-4.3 2.1" fill="none" stroke="#5a6367" stroke-width="0.85"/>
<text x="302.9" y="261.75" font-size="10.7" fill="#4d565a" textLength="42.4" lengthAdjust="spacingAndGlyphs">Adapts</text>
<text x="348.6" y="261.73" font-size="10.7" fill="#4d565a" textLength="34.6" lengthAdjust="spacingAndGlyphs">phase</text>
<text x="386.5" y="261.71" font-size="10.7" fill="#4d565a" textLength="30.3" lengthAdjust="spacingAndGlyphs">when</text>
<text x="420.8" y="261.69" font-size="10.7" fill="#4d565a" textLength="51.7" lengthAdjust="spacingAndGlyphs">receiving</text>
<text x="354.4" y="316.82" font-size="12.6" fill="#4d565a" textLength="42.9" lengthAdjust="spacingAndGlyphs">SLAVE</text>
<text x="401.0" y="316.80" font-size="12.6" fill="#4d565a" textLength="39.8" lengthAdjust="spacingAndGlyphs">(initial</text>
<text x="444.6" y="316.78" font-size="12.6" fill="#4d565a" textLength="53.6" lengthAdjust="spacingAndGlyphs">setting):</text>
<path d="M363.1 329.1 l4.3 2.1 l-4.3 2.1" fill="none" stroke="#5a6367" stroke-width="0.85"/>
<text x="372.6" y="334.51" font-size="10.7" fill="#4d565a" textLength="49.8" lengthAdjust="spacingAndGlyphs">Requires</text>
<text x="425.3" y="334.49" font-size="10.7" fill="#4d565a" textLength="45.1" lengthAdjust="spacingAndGlyphs">training</text>
<text x="474.5" y="334.46" font-size="10.7" fill="#4d565a" textLength="34.5" lengthAdjust="spacingAndGlyphs">phase</text>
<path d="M363.1 342.3 l4.3 2.1 l-4.3 2.1" fill="none" stroke="#5a6367" stroke-width="0.85"/>
<text x="372.3" y="347.71" font-size="10.7" fill="#4d565a" textLength="42.2" lengthAdjust="spacingAndGlyphs">Adapts</text>
<text x="417.6" y="347.69" font-size="10.7" fill="#4d565a" textLength="29.6" lengthAdjust="spacingAndGlyphs">clock</text>
<text x="450.3" y="347.67" font-size="10.7" fill="#4d565a" textLength="57.0" lengthAdjust="spacingAndGlyphs">frequency</text>
<text x="509.9" y="347.65" font-size="10.7" fill="#4d565a" textLength="13.2" lengthAdjust="spacingAndGlyphs">to</text>
<text x="526.2" y="347.64" font-size="10.7" fill="#4d565a" textLength="51.6" lengthAdjust="spacingAndGlyphs">MASTER</text>
<path d="M363.1 354.2 l4.3 2.1 l-4.3 2.1" fill="none" stroke="#5a6367" stroke-width="0.85"/>
<text x="372.3" y="359.61" font-size="10.7" fill="#4d565a" textLength="42.2" lengthAdjust="spacingAndGlyphs">Adapts</text>
<text x="417.6" y="359.59" font-size="10.7" fill="#4d565a" textLength="35.0" lengthAdjust="spacingAndGlyphs">phase</text>
<text x="456.1" y="359.57" font-size="10.7" fill="#4d565a" textLength="31.0" lengthAdjust="spacingAndGlyphs">when</text>
<text x="490.3" y="359.55" font-size="10.7" fill="#4d565a" textLength="51.5" lengthAdjust="spacingAndGlyphs">receiving</text>
<text x="395.9" y="464.45" font-size="10.3" fill="#4d565a" textLength="20.4" lengthAdjust="spacingAndGlyphs">100</text>
<text x="419.3" y="464.44" font-size="10.3" fill="#4d565a" textLength="35.4" lengthAdjust="spacingAndGlyphs">Mbit/s</text>
<text x="389.0" y="476.71" font-size="10.3" fill="#4d565a" textLength="28.2" lengthAdjust="spacingAndGlyphs">FULL</text>
<text x="421.2" y="476.69" font-size="10.3" fill="#4d565a" textLength="46.1" lengthAdjust="spacingAndGlyphs">DUPLEX</text>
<text x="32.0" y="502.88" font-size="9.5" fill="#6b7377" textLength="9.6" lengthAdjust="spacingAndGlyphs">©</text>
<text x="43.9" y="502.88" font-size="9.5" fill="#6b7377" textLength="52.1" lengthAdjust="spacingAndGlyphs">2010-2017.</text>
<text x="98.5" y="502.85" font-size="9.5" fill="#6b7377" textLength="32.5" lengthAdjust="spacingAndGlyphs">Vector</text>
<text x="133.5" y="502.83" font-size="9.5" fill="#6b7377" textLength="50.7" lengthAdjust="spacingAndGlyphs">Informatik</text>
<text x="186.7" y="502.81" font-size="9.5" fill="#6b7377" textLength="33.0" lengthAdjust="spacingAndGlyphs">GmbH.</text>
<text x="223.6" y="502.79" font-size="9.5" fill="#6b7377" textLength="13.0" lengthAdjust="spacingAndGlyphs">All</text>
<text x="238.7" y="502.78" font-size="9.5" fill="#6b7377" textLength="28.2" lengthAdjust="spacingAndGlyphs">rights</text>
<text x="268.9" y="502.77" font-size="9.5" fill="#6b7377" textLength="45.6" lengthAdjust="spacingAndGlyphs">reserved.</text>
<text x="316.8" y="502.74" font-size="9.5" fill="#6b7377" textLength="17.7" lengthAdjust="spacingAndGlyphs">Any</text>
<text x="336.9" y="502.73" font-size="9.5" fill="#6b7377" textLength="56.2" lengthAdjust="spacingAndGlyphs">distribution</text>
<text x="396.1" y="502.70" font-size="9.5" fill="#6b7377" textLength="9.9" lengthAdjust="spacingAndGlyphs">or</text>
<text x="408.8" y="502.70" font-size="9.5" fill="#6b7377" textLength="36.7" lengthAdjust="spacingAndGlyphs">copying</text>
<text x="448.5" y="502.68" font-size="9.5" fill="#6b7377" textLength="7.8" lengthAdjust="spacingAndGlyphs">is</text>
<text x="459.3" y="502.67" font-size="9.5" fill="#6b7377" textLength="34.5" lengthAdjust="spacingAndGlyphs">subject</text>
<text x="496.5" y="502.65" font-size="9.5" fill="#6b7377" textLength="10.7" lengthAdjust="spacingAndGlyphs">to</text>
<text x="510.0" y="502.65" font-size="9.5" fill="#6b7377" textLength="22.0" lengthAdjust="spacingAndGlyphs">prior</text>
<text x="534.2" y="502.63" font-size="9.5" fill="#6b7377" textLength="36.8" lengthAdjust="spacingAndGlyphs">written</text>
<text x="573.5" y="502.61" font-size="9.5" fill="#6b7377" textLength="42.4" lengthAdjust="spacingAndGlyphs">approval</text>
<text x="619.0" y="502.59" font-size="9.5" fill="#6b7377" textLength="11.2" lengthAdjust="spacingAndGlyphs">by</text>
<text x="632.7" y="502.58" font-size="9.5" fill="#6b7377" textLength="33.8" lengthAdjust="spacingAndGlyphs">Vector.</text>
<text x="668.7" y="502.57" font-size="9.5" fill="#6b7377" textLength="22.8" lengthAdjust="spacingAndGlyphs">V2.0</text>
</g>
</svg>
</body>
</html>
